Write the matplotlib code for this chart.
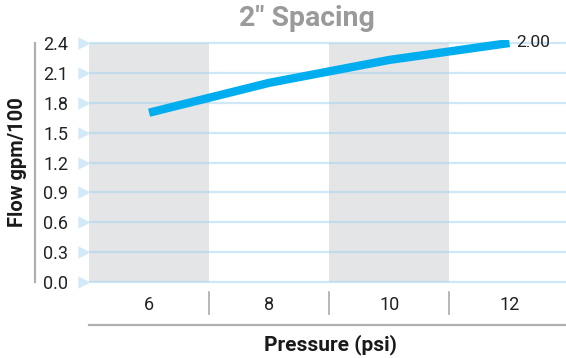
import matplotlib
matplotlib.use("Agg")
import matplotlib.pyplot as plt

# data
pressure = ["6", "8", "10", "12"]
flow = [1.70, 2.00, 2.23, 2.40]
end_label = "2.00"
yticks = [0.0, 0.3, 0.6, 0.9, 1.2, 1.5, 1.8, 2.1, 2.4]
shaded = [0, 2]  # which categories get the grey band

plt.rcParams['font.family'] = ['Roboto', 'DejaVu Sans']

fig = plt.figure(figsize=(5.66, 3.58), dpi=100)
ax = fig.add_axes([89/566, 73/358, 477/566, 245/358])

x = list(range(len(pressure)))
ymax = yticks[-1]

# grey bands
for i in shaded:
    ax.bar(x[i], ymax, width=1.0, color='#e4e5e7', zorder=0)

# grid lines + little triangles
for v in yticks:
    ax.axhline(v, color='#9fd3f0', alpha=0.5, lw=1.6, zorder=1)
ax.scatter([-0.01]*len(yticks), yticks, marker='>', s=80, color='#d2eaf8',
           transform=ax.get_yaxis_transform(), clip_on=False, zorder=2, linewidths=0)

# the flow line
ax.plot(x, flow, color='#00aeef', lw=6, solid_capstyle='butt', zorder=3)
ax.text(x[-1] + 0.055, flow[-1], end_label, fontsize=12.5, color='#222222',
        va='center', ha='left', zorder=4)

ax.set_xlim(-0.5, 3.47)
ax.set_ylim(-0.03, 2.43)

for s in ax.spines.values():
    s.set_visible(False)

ax.set_yticks(yticks)
ax.set_yticklabels(["%.1f" % v for v in yticks], fontsize=13, color='#222222')
ax.tick_params(axis='y', length=0, pad=15)
ax.set_xticks(x)
ax.set_xticklabels(pressure, fontsize=13, color='#222222')
ax.tick_params(axis='x', length=0, pad=8)

# separators between categories
xt = ax.get_xaxis_transform()
for b in [0.5, 1.5, 2.5]:
    ax.plot([b, b], [-0.03, -0.118], color='#aaaaaa', lw=1.2, transform=xt, clip_on=False)
# bottom rule
ax.plot([0, 1], [-0.163, -0.163], color='#b0b0b0', lw=1.6, transform=ax.transAxes, clip_on=False)
# left rule
ax.plot([-0.113, -0.113], [0, ymax], color='#b0b0b0', lw=1.6,
        transform=ax.get_yaxis_transform(), clip_on=False)

fig.text(307/566, 1 - 18/358, '2" Spacing', fontsize=20.5, fontweight='bold',
         color='#9a9a9a', ha='center', va='center')
fig.text(330/566, 1 - 345/358, 'Pressure (psi)', fontsize=15, fontweight='bold',
         color='#1a1a1a', ha='center', va='center')
fig.text(18/566, 1 - 162/358, 'Flow gpm/100', fontsize=14.5, fontweight='bold',
         color='#1a1a1a', ha='center', va='center', rotation=90)

fig.savefig('out.png', dpi=100)
